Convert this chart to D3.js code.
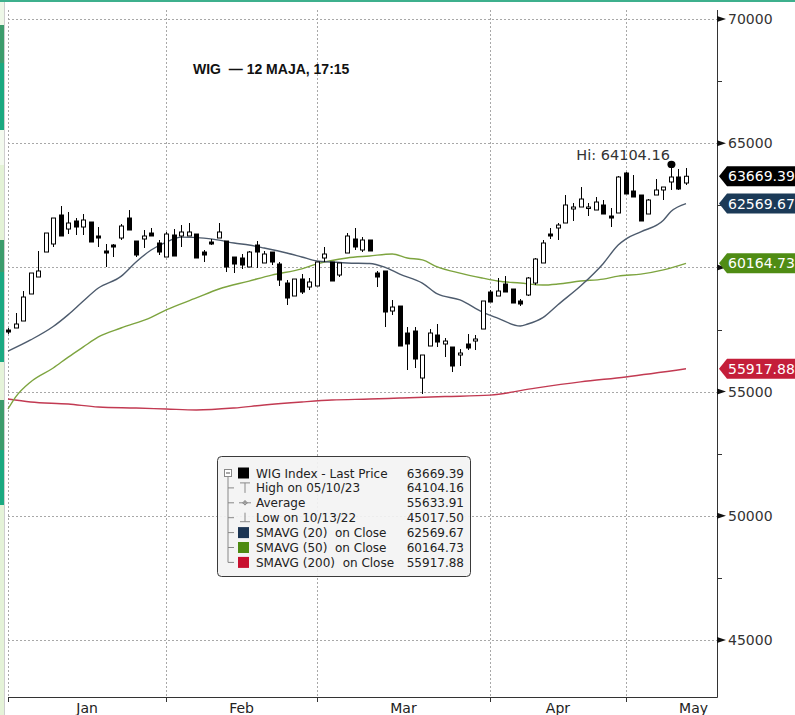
<!DOCTYPE html>
<html><head><meta charset="utf-8">
<script src="https://cdn.jsdelivr.net/npm/d3@7"></script>
<style>html,body{margin:0;padding:0;background:#fff;overflow:hidden}svg{display:block}</style>
</head><body><svg id="c" width="795" height="715"></svg>
<script>
// ---- data ----
const opens = [57479,57560,57842,58929,59613,60619,60942,62109,61545,61868,
61626,61827,61264,60660,60901,61183,61988,61062,61143,61384,
60982,60418,61304,61264,61264,61344,60619,61022,61183,61062,
60418,60378,60016,60901,60177,60619,60136,59371,58848,59532,
59210,59251,60378,60217,59693,60579,61143,60700,61103,59774,
59855,58244,58445,57358,57439,55547,56835,57278,56916,56795,
56473,56916,57036,57519,59009,58848,59331,59130,58647,58888,
59371,60177,61344,61586,61787,62351,62431,62391,62310,62512,
62069,62190,63800,63075,62914,62149,62914,63116,63438,63639,63397];
const highs = [57560,58164,59049,59774,60660,61384,61988,62471,62230,61988,
62149,61827,61626,60942,60942,61747,62310,61062,61505,61586,
61103,61425,61545,61706,61787,61344,60700,61143,61787,61062,
60418,60539,60660,61062,60660,60619,60217,59492,59532,59734,
59573,60217,60821,60217,60177,61384,61586,61223,61103,59855,
59855,58687,58445,57600,57600,56473,57519,57721,57157,56795,
56714,57318,57278,58647,59090,59573,59653,59130,58727,59613,
60378,61103,61586,61787,62914,62592,63236,62592,62834,62713,
62391,63679,63840,63719,62914,62753,63558,63236,64104.16,63961,64001];
const lows = [57318,57560,57842,58929,59613,60619,60821,61264,61344,61304,
61304,61022,60821,60016,60418,61103,61505,60418,60781,61264,
60499,60418,60458,60821,61264,60378,60217,60901,61183,59814,
59774,59935,60016,59975,60177,60096,59251,58486,58848,58929,
59090,59251,60217,59452,59613,60579,60700,60619,60660,59210,
57600,58083,56835,55869,55949,54903,56835,56795,56392,55788,
56030,56674,56674,57519,58606,58848,59009,58566,58445,58848,
59291,60177,61143,61103,61787,61868,62431,62069,62310,62149,
61626,62190,62955,62834,61868,62149,62914,62713,63116,63116,63317];
const closes = [57399,57721,58808,59774,59855,61384,61988,61264,61787,61626,
61908,61022,61183,60579,60821,61666,61505,60499,61264,61264,
60619,61344,60458,61425,61425,60378,60499,60942,61425,60016,
60136,60096,60619,60619,60539,60217,59492,58768,59532,59009,
59412,60217,60539,59452,60177,61264,60821,61103,60660,59613,
58204,58405,56835,56916,56312,56473,57358,56996,57036,56030,
56553,56755,57117,58647,58606,59049,59009,58566,58526,59573,
60338,60982,61264,61706,62512,62431,62753,62431,62632,62149,
61988,63639,62955,62834,61868,62713,63116,63236,63639,63156,63669.39];

const sma20Idx = [0,3,6,8,10,12,15,17,19,21,23,26,28,30,32,34,37,39,41,43,45,48,50,52,55,57,60,63,65,68,69,71,73,76,79,81,82,84,87,88,90];
const sma20Val = [56630,57080,57620,58100,58650,59170,59640,60220,60700,61020,61220,61180,61100,60980,60900,60780,60580,60420,60260,60220,60180,60160,60010,59730,59370,58930,58690,58200,57960,57640,57720,57980,58500,59250,60150,60900,61140,61430,61900,62250,62569.67];
const sma50Idx = [0,1,3,6,8,10,12,15,19,21,25,28,32,35,39,41,45,48,51,53,55,57,60,63,65,68,71,73,76,79,81,84,87,90];
const sma50Val = [54300,54780,55390,55950,56390,56800,57200,57560,57990,58290,58770,59130,59450,59690,59940,60140,60380,60460,60540,60380,60300,60020,59770,59570,59450,59370,59290,59330,59450,59530,59650,59730,59900,60164.73];
const sma200Idx = [0,3,8,12,17,21,25,30,34,39,43,48,52,58,64,70,76,82,90];
const sma200Val = [54700,54580,54500,54380,54340,54300,54260,54340,54460,54580,54660,54700,54740,54800,54860,55140,55390,55590,55917.88];

const monthLabels = ["Jan","Feb","Mar","Apr","May"];
const monthStart = [0,21,41,64,82];
const monthEndLast = 100;
const yTicks = [45000,50000,55000,60000,65000,70000];
const yMinor = [47500,52500,57500,62500,67500];

const legendLabels = ["WIG Index - Last Price","High on 05/10/23","Average","Low on 10/13/22","SMAVG (20)  on Close","SMAVG (50)  on Close","SMAVG (200)  on Close"];
const legendValues = ["63669.39","64104.16","55633.91","45017.50","62569.67","60164.73","55917.88"];
const title = "WIG  \u2014 12 MAJA, 17:15";
const hiValue = 64104.16, hiIndex = 88;
const tagValues = [63669.39, 62569.67, 60164.73, 55917.88];
const tagColors = ["#000000","#1b3a57","#4f8c14","#c41e3a"];
const lineColors = {s20:"#4d5b6d", s50:"#7da43f", s200:"#c23a52"};

// ---- drawing ----
const svg = d3.select("#c");
const x = d3.scaleLinear().domain([0,90]).range([8,686]);
const y = d3.scaleLinear().domain([45000,70000]).range([640,19]);
const L = 8, R = 717, T = 10, B = 697;

// decorative left strip + top rule (screen capture border)
const strip = [[0,25,"#eef8e8"],[25,63,"#3c9c6c"],[63,130,"#1aa980"],[130,165,"#f3faee"],[165,240,"#e4f3d6"],[240,272,"#3c9c6c"],[272,362,"#1ba982"],[362,400,"#e6f4da"],[400,450,"#3c9c6c"],[450,505,"#1aa980"],[505,715,"#e5f3d8"]];
svg.selectAll("rect.strip").data(strip).join("rect").attr("x",0).attr("width",4)
  .attr("y",d=>d[0]).attr("height",d=>d[1]-d[0]).attr("fill",d=>d[2]);
svg.append("line").attr("x1",4.5).attr("x2",4.5).attr("y1",0).attr("y2",715).attr("stroke","#cfcfcf");
svg.append("rect").attr("x",0).attr("y",0).attr("width",795).attr("height",2).attr("fill","#3db08d");

// gridlines
const grid = svg.append("g").attr("stroke","#a8a8a8").attr("stroke-dasharray","2,2").attr("stroke-width",1);
yTicks.forEach(t=>{ const yy=Math.round(y(t))+0.5;
  grid.append("line").attr("x1",L).attr("x2",R).attr("y1",yy).attr("y2",yy); });
monthStart.forEach(m=>{ const xx=Math.round(x(m))+0.5;
  grid.append("line").attr("x1",xx).attr("x2",xx).attr("y1",T).attr("y2",B); });

// moving averages
function drawLine(idx,val,color){
  const pts = idx.map((d,i)=>[x(d),y(val[i])]);
  svg.append("path").attr("d",d3.line().curve(d3.curveMonotoneX)(pts))
    .attr("fill","none").attr("stroke",color).attr("stroke-width",1.4);
}
drawLine(sma200Idx,sma200Val,lineColors.s200);
drawLine(sma50Idx,sma50Val,lineColors.s50);
drawLine(sma20Idx,sma20Val,lineColors.s20);

// candles
const cg = svg.append("g");
opens.forEach((o,i)=>{
  const c = closes[i], xc = Math.round(x(i))+0.5;
  cg.append("line").attr("x1",xc).attr("x2",xc).attr("y1",y(highs[i])).attr("y2",y(lows[i]))
    .attr("stroke","#000").attr("stroke-width",1);
  const top = y(Math.max(o,c)), bot = y(Math.min(o,c));
  const h = Math.max(bot-top,1.5);
  if (c >= o) {
    cg.append("rect").attr("x",xc-2).attr("y",top).attr("width",4).attr("height",h)
      .attr("fill","#fff").attr("stroke","#000").attr("stroke-width",1);
  } else {
    cg.append("rect").attr("x",xc-2.5).attr("y",top-0.5).attr("width",5).attr("height",h+1)
      .attr("fill","#000");
  }
});

// high marker
svg.append("ellipse").attr("cx",x(hiIndex)+0.5).attr("cy",y(hiValue)-1).attr("rx",4).attr("ry",3.6).attr("fill","#000");
svg.append("text").attr("x",x(hiIndex)-1).attr("y",y(hiValue)-5).attr("text-anchor","end")
  .attr("font-family","DejaVu Sans").attr("font-size",14.5).attr("fill","#333").text("Hi: "+hiValue.toFixed(2));

// title
svg.append("text").attr("x",193).attr("y",74).attr("font-family","Liberation Sans, Arial").attr("font-weight","bold")
  .attr("font-size",14).attr("fill","#111").style("white-space","pre").text(title);

// axes
svg.append("line").attr("x1",R+0.5).attr("x2",R+0.5).attr("y1",T).attr("y2",B+0.5).attr("stroke","#333");
svg.append("line").attr("x1",L).attr("x2",R+0.5).attr("y1",B+0.5).attr("y2",B+0.5).attr("stroke","#333");
yMinor.forEach(t=>{ const yy=Math.round(y(t))+0.5;
  svg.append("line").attr("x1",R).attr("x2",R+5).attr("y1",yy).attr("y2",yy).attr("stroke","#333"); });
yTicks.forEach(t=>{ const yy=y(t);
  svg.append("path").attr("d",`M${R},${yy-3}L${R+9},${yy}L${R},${yy+3}Z`).attr("fill","#111");
  // a tick label hidden under a value tag is not drawn (as in the reference)
  const covered = tagValues.some(v=>Math.abs(y(v)-yy)<10);
  if (!covered) svg.append("text").attr("x",R+11).attr("y",yy+5).attr("font-family","DejaVu Sans").attr("font-size",14)
    .attr("fill","#333").text(t); });
monthStart.forEach((m,i)=>{ const xx=Math.round(x(m))+0.5;
  svg.append("line").attr("x1",xx).attr("x2",xx).attr("y1",B).attr("y2",B+5).attr("stroke","#333");
  const nxt = i<monthStart.length-1 ? monthStart[i+1] : monthEndLast;
  svg.append("text").attr("x",x((m+nxt)/2)).attr("y",713).attr("text-anchor","middle")
    .attr("font-family","DejaVu Sans").attr("font-size",14).attr("fill","#222").text(monthLabels[i]); });

// value tags
tagValues.forEach((v,i)=>{ const yc=y(v);
  svg.append("path").attr("d",`M${R+2},${yc}L${R+10},${yc-10}L796,${yc-10}L796,${yc+10}L${R+10},${yc+10}Z`)
    .attr("fill",tagColors[i]);
  svg.append("text").attr("x",R+11).attr("y",yc+5).attr("font-family","DejaVu Sans").attr("font-size",14)
    .attr("fill","#fff").text(v.toFixed(2)); });

// legend
const lg = svg.append("g");
lg.append("rect").attr("x",217.5).attr("y",456.5).attr("width",253).attr("height",120).attr("rx",4)
  .attr("fill","#f3f3f3").attr("fill-opacity",0.92).attr("stroke","#3a3a3a");
const rowY = i => 473 + i*14.9;
lg.append("rect").attr("x",224.5).attr("y",rowY(0)-3.5).attr("width",7).attr("height",7).attr("fill","#fff").attr("stroke","#888");
lg.append("line").attr("x1",226).attr("x2",230).attr("y1",rowY(0)).attr("y2",rowY(0)).attr("stroke","#555");
lg.append("line").attr("x1",228).attr("x2",228).attr("y1",rowY(0)+4).attr("y2",rowY(6)).attr("stroke","#888");
for (let i=1;i<7;i++) lg.append("line").attr("x1",228).attr("x2",234).attr("y1",rowY(i)).attr("y2",rowY(i)).attr("stroke","#888");
const sqColors = ["#000",null,null,null,"#1c3553","#4e8b12","#c8102e"];
sqColors.forEach((c,i)=>{ if(c) lg.append("rect").attr("x",238).attr("y",rowY(i)-5.5).attr("width",11).attr("height",11).attr("fill",c); });
const ic = "#8a8a8a";
lg.append("path").attr("d",`M240,${rowY(1)-5}H250M245,${rowY(1)-5}V${rowY(1)+5}`).attr("stroke",ic).attr("fill","none");
lg.append("path").attr("d",`M239,${rowY(2)}H251M245,${rowY(2)-2.5}V${rowY(2)+2.5}M242.5,${rowY(2)}L245,${rowY(2)-2}L247.5,${rowY(2)}L245,${rowY(2)+2}Z`).attr("stroke",ic).attr("fill","none");
lg.append("path").attr("d",`M245,${rowY(3)-5}V${rowY(3)+4}M240,${rowY(3)+4}H250`).attr("stroke",ic).attr("fill","none");
legendLabels.forEach((t,i)=>{
  lg.append("text").attr("x",256).attr("y",rowY(i)+4.5).attr("font-family","DejaVu Sans").attr("font-size",12)
    .attr("fill","#222").style("white-space","pre").text(t);
  lg.append("text").attr("x",464).attr("y",rowY(i)+4.5).attr("text-anchor","end").attr("font-family","DejaVu Sans")
    .attr("font-size",12).attr("fill","#222").text(legendValues[i]);
});
</script></body></html>
